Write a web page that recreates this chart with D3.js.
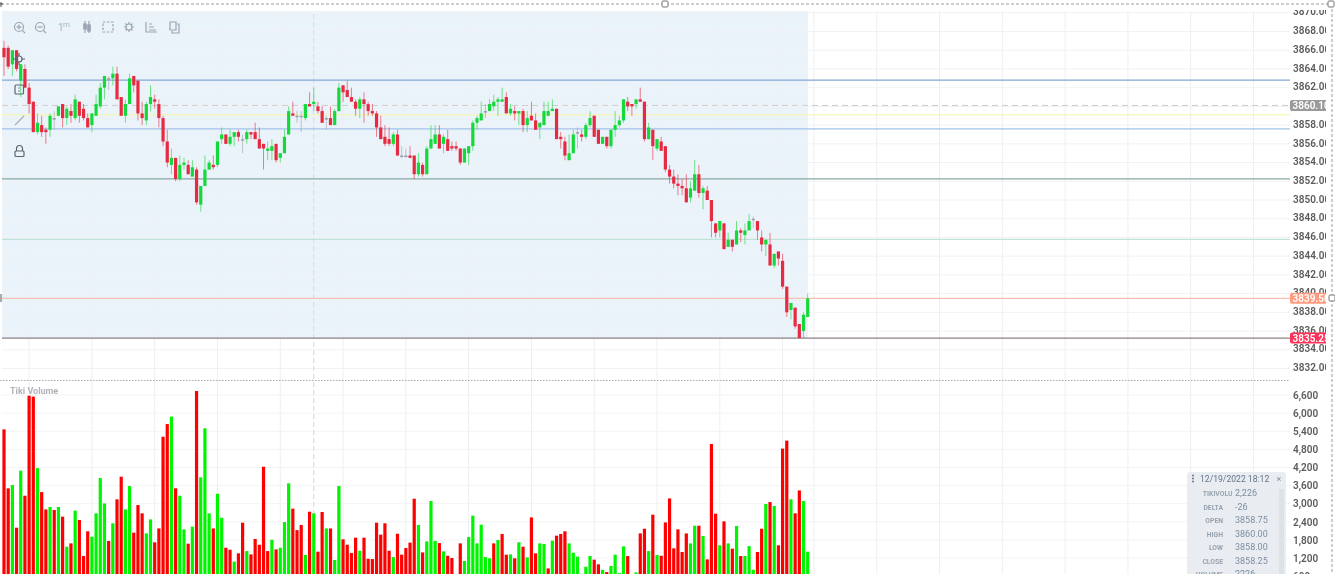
<!DOCTYPE html>
<html><head><meta charset="utf-8">
<script src="https://cdnjs.cloudflare.com/ajax/libs/d3/7.8.5/d3.min.js"></script>
<style>
html,body{margin:0;padding:0;background:#fff;overflow:hidden}
svg{display:block;filter:blur(0.55px);font-family:Roboto,"Open Sans",sans-serif}
</style></head><body><svg id="c" width="1335" height="574"></svg>
<script>
const opens=[3866.25,3866.25,3864.5,3866,3862.75,3864,3862,3860.5,3857.25,3858,3857.5,3857.5,3858.75,3859,3860.25,3858.75,3859.5,3858.75,3860.5,3859.75,
3858.75,3858,3859,3860,3862,3863,3863,3863.5,3861,3859,3860.25,3863.25,3862.75,3859.25,3858.5,3860.25,3860.75,3860.25,3858.75,3856.25,
3853.75,3854.5,3852.25,3853.75,3853.75,3852.5,3853.25,3849.5,3851.5,3853.25,3853.75,3853.75,3856.5,3857,3856,3856.75,3857.25,3856.5,3856.5,3857.25,
3857.25,3856.5,3856,3855.25,3855.25,3856,3854.5,3855,3857,3859.25,3859,3859,3858.75,3860.25,3860.25,3860,3859.5,3858.75,3858.75,3858,
3859.5,3862.25,3861.75,3861,3860.5,3859.75,3860.75,3860.25,3859.5,3859.25,3857.75,3856.75,3856.5,3856,3857,3854.75,3854.75,3854.75,3854.75,3852.75,
3853.75,3852.75,3855.5,3856,3857,3856,3856.5,3855.75,3855.75,3855.5,3854,3855,3855.75,3858.25,3858.5,3859.5,3859.5,3860,3860.5,3860.5,
3861,3859.25,3859.5,3859.25,3859.5,3858,3859,3858.5,3857.75,3858,3859,3859.5,3859.75,3856.75,3856.25,3854.25,3855,3857.25,3857,3856.75,
3858,3859,3857.5,3856,3856.75,3855.75,3857.5,3858,3858.5,3860.5,3860.25,3860.25,3860.75,3860.5,3856.5,3857.5,3855.5,3856.25,3855.75,3853.25,
3852.5,3851.75,3851.5,3851.25,3850.25,3851,3852.75,3850.75,3851,3850,3847.5,3846.75,3847.5,3845,3845.75,3845.25,3846.75,3846.25,3846.75,3848,
3847.75,3846,3845.25,3845.25,3843,3844.5,3843.5,3840.75,3838.25,3838.5,3836.75,3836,3837.5];
const highs=[3867,3866.5,3866,3866,3864.5,3864.5,3862.5,3860.5,3859.25,3859,3857.75,3859.25,3859.5,3860,3860.25,3860,3860.25,3861.25,3860.5,3860.25,
3859.25,3859.25,3861.25,3862.5,3863.25,3863.25,3864.25,3864.25,3861,3860.75,3863.5,3863.25,3862.75,3860.5,3860.5,3862.25,3861.25,3860.75,3859,3857.5,
3855.5,3854.5,3854.75,3854.5,3854.25,3854.25,3853.5,3851.5,3854.75,3854.25,3854.75,3856.25,3857.75,3857,3857.5,3857.25,3857.5,3857,3857.5,3857.25,
3858.25,3857.75,3856,3856.25,3856.5,3856,3855,3857.5,3860,3860.5,3859.5,3859.5,3860.25,3861.5,3862,3860.5,3860,3859,3860,3859.75,
3862.5,3862.25,3862.75,3862,3860.75,3861,3861.5,3860.5,3860.25,3859.5,3859,3858,3857.75,3857.25,3857.5,3855.75,3855.5,3855.75,3854.75,3855,
3854,3855.75,3858,3858,3858,3857,3857.5,3856.25,3856.25,3855.5,3855.5,3855.75,3858.5,3859,3860.5,3860.25,3860.75,3861.25,3861,3862,
3861.5,3860.25,3860,3859.5,3859.75,3859.5,3860.5,3859.25,3858.25,3860.5,3860.5,3860.75,3859.75,3857.25,3856.75,3857,3857.5,3857.75,3857.5,3858.25,
3859.5,3859,3857.5,3856.75,3856.75,3857.5,3859.5,3859,3860.75,3861,3860.25,3860.75,3862,3860.5,3858.25,3857.5,3856.5,3856.75,3855.75,3853.75,
3853.25,3852.75,3852.25,3852.75,3852,3854.25,3853.75,3851.5,3851.5,3850,3847.5,3847.75,3847.5,3846.5,3845.75,3847.75,3847,3847.5,3848.5,3848.25,
3847.75,3846.75,3845.75,3846.5,3844.25,3844.5,3844.25,3840.75,3839,3838.5,3836.75,3838,3840];
const lows=[3863.25,3864,3863.25,3863.75,3861,3862,3859.25,3857.25,3857,3856.75,3856,3856.75,3857.5,3859,3857.75,3858,3858.25,3858.5,3858.25,3858.5,
3857.75,3857.25,3859,3859.75,3860.75,3861.75,3862.25,3860.75,3859,3858.25,3860.25,3861.5,3858.5,3858,3858,3859.5,3859.75,3857.75,3855.75,3853.5,
3852.75,3852,3852,3853.25,3852.75,3852.5,3849.5,3848.75,3851.5,3853.25,3853.25,3853.5,3856,3856,3855.75,3855.75,3856.25,3855,3856,3856.5,
3856.5,3855.5,3853.25,3854.25,3854.25,3854,3854,3855,3857,3859,3858.25,3857.25,3858.5,3860,3859.5,3859.25,3858.25,3857.5,3858,3858,
3859.5,3860.5,3861,3860.5,3859,3858.75,3858.25,3859,3859,3856.75,3856.5,3855.75,3855.75,3855.75,3854.75,3854.5,3854.5,3854.5,3852.25,3852.5,
3852.5,3852.75,3855.5,3856,3855.5,3855,3855.25,3855.25,3855.25,3853.75,3854,3853.75,3855.25,3857.5,3858.5,3858.75,3859.5,3859.5,3859,3860.5,
3859.25,3859,3858.5,3858,3857.25,3857.25,3858.5,3857.5,3856.5,3858,3859,3859.5,3856.5,3855.5,3854.25,3854.25,3855,3855.5,3856.25,3856.5,
3857.75,3856.75,3856,3856,3855.5,3855.5,3856.75,3857.75,3858.25,3859.5,3859,3859.75,3860.5,3856.25,3856.5,3854.25,3855.25,3855.25,3853,3851.75,
3851.25,3850.5,3850.5,3849.75,3849.75,3851,3850.25,3849,3850,3846,3846,3846,3844.75,3845,3844.5,3845.25,3845.5,3845.25,3846.75,3847,
3845.75,3844.5,3844,3843,3842.75,3843,3840.5,3837.5,3837.25,3836.25,3835.25,3835.25,3837.5];
const closes=[3865.25,3864.25,3866,3864,3864.5,3862,3860.25,3857.25,3858.25,3857.25,3857.25,3859,3858.75,3860,3858.75,3859.75,3859,3860.75,3859,3858.75,
3857.75,3859.25,3860.25,3862,3863.25,3863,3863.5,3860.75,3859,3860.25,3863,3862.25,3859.25,3858.75,3860.25,3861,3860.5,3858.75,3856.25,3854,
3854.5,3852.25,3853.75,3854,3852.75,3853.5,3849.75,3851.5,3853.25,3854,3853.5,3856.25,3857,3856,3856.75,3857.25,3856.75,3856.5,3857.25,3857,
3856.5,3855.5,3855.5,3855.5,3855.75,3854.25,3855,3856.75,3859.5,3859,3859,3859,3860.25,3860,3860.5,3859.5,3858.25,3858.75,3858,3859.5,
3862,3861.5,3861,3860.5,3859.75,3860.75,3860.25,3859.5,3859.25,3857.75,3856.5,3856,3856,3857,3854.75,3854.75,3854.75,3854.5,3852.75,3854,
3852.75,3855.5,3856.5,3857,3855.5,3856.75,3855.25,3855.5,3855.5,3854,3855.5,3855.75,3858.25,3858.75,3859.25,3859.5,3860.25,3860.5,3860.75,3860.75,
3859.25,3859.75,3859.25,3859.5,3858,3858.75,3858.5,3857.5,3858.25,3859.5,3859.5,3859.75,3856.5,3856.5,3854.75,3855,3857,3857.25,3856.75,3858,
3858.75,3856.75,3856,3856.75,3855.75,3857.5,3858,3858.5,3860.75,3860,3860,3860.75,3860.5,3856.5,3857.75,3855.75,3856.5,3855.25,3853.25,3852.5,
3851.75,3851.5,3851.25,3849.75,3851.25,3852.75,3850.75,3851.25,3850,3847.75,3846.5,3847.75,3844.75,3845.75,3845,3846.75,3846.5,3846.75,3847.75,3848,
3846.75,3845.25,3845.75,3843,3844.25,3843.75,3840.75,3838,3839,3836.5,3835.25,3837.75,3839.5];
const volumes=[5465,3510,3620,2205,4095,3265,6580,6550,4180,3385,2810,2890,2790,2890,2570,1575,1685,2770,2460,1265,
2085,1905,2680,3850,3010,1765,2350,3145,3895,2810,3585,2040,2955,2680,2015,2480,1720,2180,5220,5640,
5885,3510,3265,2150,1675,2240,6735,3875,5500,2680,2180,3330,2535,1540,1475,1080,1355,2370,1430,1320,
1830,1640,4225,1430,1805,1485,1540,2390,3675,2835,2125,2295,1300,2735,2680,1410,2725,2180,2180,1135,
3585,1820,1640,1365,1875,1440,1875,1175,1165,2370,1975,2350,1440,1230,2005,1310,1530,1710,3165,2295,
1385,1750,3090,1765,1695,1420,1275,1200,600,1685,1100,1895,2605,1685,2305,1230,1190,1685,1795,1995,
1310,1320,1190,1720,1575,1220,2545,1355,1685,1665,855,1775,1940,1995,2085,1685,1375,1245,600,910,
1265,1145,990,810,735,935,1310,700,1585,1265,600,725,2015,2170,1430,2635,1300,1275,2380,3175,
1520,2150,1400,2015,1685,2270,2270,1930,1155,4980,2670,1620,2415,1685,1510,2260,1265,1265,1595,810,
1400,2170,2990,3055,2925,1620,4825,5090,3145,2680,3440,3090,1410];
const volumeUp=[0,0,1,0,1,0,0,0,1,0,0,1,0,1,0,1,0,1,0,0,0,1,1,1,1,0,1,0,0,1,1,0,0,0,1,1,0,0,0,0,
1,0,1,1,0,1,0,1,1,1,0,1,1,0,0,1,0,0,1,0,0,0,0,0,1,0,1,1,1,0,0,0,1,0,1,0,0,1,0,1,
1,0,0,0,0,1,0,0,0,0,0,0,0,1,0,0,0,0,0,1,0,1,1,1,0,1,0,0,0,0,1,1,1,1,1,1,1,0,1,0,
0,1,0,1,0,1,0,0,1,1,0,1,0,0,0,1,1,1,0,1,1,0,0,1,0,1,1,1,1,0,0,1,0,0,1,0,1,0,0,0,
0,0,0,0,1,1,0,1,0,0,0,1,0,1,0,1,0,1,1,1,0,0,1,0,1,0,0,0,1,0,0,1,1];
const priceTicks=[3870,3868,3866,3864,3862,3860,3858,3856,3854,3852,3850,3848,3846,3844,3842,3840,3838,3836,3834,3832];
const volumeTicks=[600,1200,1800,2400,3000,3600,4200,4800,5400,6000,6600];
const timeGridBars=[6,21,36,51,66,81,96,111,126,141,156,171,186,193.5,208.5,223.5,238.5,253.5,268.5,283.5,298.5];
const crosshairBar=74;
const levelValues=[3862.8,3859.1,3857.6,3852.25,3845.8,3839.5,3835.25];
const levelColors=["#86a9d6","#f6f6a4","#a3c4ea","#88a9a2","#bfe3d8","#fbc0b1","#8d8282"];
const lastPriceValue=3860.1;
const priceTags=[["3860.10",3860.1,"#9a9a9a"],["3839.50",3839.5,"#ff9a7f"],["3835.25",3835.25,"#ff3158"]];
const tipTitle="12/19/2022 18:12";
const tipLabels=["TIKIVOLU","DELTA","OPEN","HIGH","LOW","CLOSE","VOLUME"];
const tipValues=["2,226","-26","3858.75","3860.00","3858.00","3858.25","2226"];

const svg=d3.select("#c");
const defs=svg.append("defs");
defs.append("clipPath").attr("id","axisClip").append("rect").attr("x",1285).attr("y",10).attr("width",41).attr("height",564);
defs.append("clipPath").attr("id","priceClip").append("rect").attr("x",2).attr("y",10).attr("width",1288).attr("height",370);
defs.append("clipPath").attr("id","volClip").append("rect").attr("x",2).attr("y",382).attr("width",1288).attr("height",192);

const x=d3.scaleLinear().domain([0,192]).range([4,807.7]);
const y=d3.scaleLinear().domain([3868,3832]).range([31.5,368.5]);
const yv=d3.scaleLinear().domain([0,6600]).range([594.2,395.1]);

// selection background
svg.append("rect").attr("x",2).attr("y",11).attr("width",806).attr("height",327).attr("fill","#ebf3fa");

// grid
const grid=svg.append("g").attr("stroke","#eceff3").attr("stroke-width",1).attr("fill","none");
timeGridBars.forEach(b=>grid.append("line").attr("x1",x(b)).attr("x2",x(b)).attr("y1",11).attr("y2",574));
priceTicks.forEach(p=>grid.append("line").attr("x1",2).attr("x2",1290).attr("y1",y(p)).attr("y2",y(p)).attr("stroke","#f0f2f5"));
volumeTicks.forEach(v=>grid.append("line").attr("x1",2).attr("x2",1290).attr("y1",yv(v)).attr("y2",yv(v)).attr("stroke","#f3f3f5"));
svg.append("line").attr("x1",x(crosshairBar)).attr("x2",x(crosshairBar)).attr("y1",14).attr("y2",574)
  .attr("stroke","#d3d7dc").attr("stroke-dasharray","5 3");

// levels
const gp=svg.append("g").attr("clip-path","url(#priceClip)");
gp.append("line").attr("x1",2).attr("x2",1290).attr("y1",y(lastPriceValue)).attr("y2",y(lastPriceValue))
  .attr("stroke","#cdcdcd").attr("stroke-dasharray","6 4");
gp.selectAll("line.lvl").data(levelValues).join("line").attr("class","lvl")
  .attr("x1",2).attr("x2",1290).attr("y1",d=>y(d)).attr("y2",d=>y(d))
  .attr("stroke",(d,i)=>levelColors[i]).attr("stroke-width",(d,i)=>i===1?1:1.2);

// candles
const candleColor=(o,c)=>o===c?"#9aa0a8":(c>o?"#14d93a":"#e62a42");
const candles=gp.append("g").selectAll("g").data(opens).join("g");
candles.append("line").attr("x1",(d,i)=>x(i)).attr("x2",(d,i)=>x(i))
  .attr("y1",(d,i)=>y(highs[i])).attr("y2",(d,i)=>y(lows[i]))
  .attr("stroke",(d,i)=>candleColor(d,closes[i])).attr("stroke-width",1).attr("stroke-opacity",.6);
candles.append("rect").attr("x",(d,i)=>x(i)-1.6).attr("width",3.2)
  .attr("y",(d,i)=>y(Math.max(d,closes[i])))
  .attr("height",(d,i)=>Math.max(1.5,Math.abs(y(d)-y(closes[i]))))
  .attr("fill",(d,i)=>candleColor(d,closes[i]));

// volume
svg.append("g").attr("clip-path","url(#volClip)").selectAll("rect").data(volumes).join("rect")
  .attr("x",(d,i)=>x(i)-1.6).attr("width",3.2).attr("y",d=>yv(d)).attr("height",d=>yv(0)-yv(d))
  .attr("fill",(d,i)=>volumeUp[i]?"#00f500":"#ff0000");

// separator, frame
svg.append("line").attr("x1",0).attr("x2",1290).attr("y1",380.5).attr("y2",380.5).attr("stroke","#a9a9a9").attr("stroke-dasharray","1.5 1.5");
const frame=svg.append("g").attr("fill","none").attr("stroke","#9b9b9b").attr("stroke-dasharray","3 2");
frame.append("line").attr("x1",1).attr("x2",1331).attr("y1",4).attr("y2",4);
frame.append("line").attr("x1",1332).attr("x2",1332).attr("y1",4).attr("y2",574);
const hs=[[665,4],[1331,4],[1332,298]];
hs.forEach(h=>svg.append("rect").attr("x",h[0]-3).attr("y",h[1]-3).attr("width",6).attr("height",6).attr("rx",1).attr("fill","#fff").attr("stroke","#777"));
svg.append("line").attr("x1",1).attr("x2",1).attr("y1",294).attr("y2",302).attr("stroke","#555");
svg.append("line").attr("x1",0).attr("x2",3).attr("y1",4).attr("y2",4).attr("stroke","#555");
svg.append("line").attr("x1",1).attr("x2",1).attr("y1",2).attr("y2",7).attr("stroke","#555");

// axes
const axisG=svg.append("g").attr("clip-path","url(#axisClip)");
const styleAxis=g=>{g.select(".domain").remove();g.selectAll(".tick line").remove();
  g.selectAll("text").attr("fill","#5b5b5b").attr("font-size",10).attr("font-weight",600).attr("font-family","Roboto,sans-serif");};
axisG.append("g").attr("transform","translate(1293,-1)")
  .call(d3.axisRight(y).tickValues(priceTicks).tickFormat(d3.format(".2f")).tickSize(0).tickPadding(0)).call(styleAxis);
axisG.append("g").attr("transform","translate(1293,0)")
  .call(d3.axisRight(yv).tickValues(volumeTicks).tickFormat(d3.format(",")).tickSize(0).tickPadding(0)).call(styleAxis);
priceTags.forEach(t=>{
  axisG.append("rect").attr("x",1290).attr("y",y(t[1])-5.5).attr("width",42).attr("height",11).attr("rx",2).attr("fill",t[2]);
  axisG.append("text").attr("x",1292.5).attr("y",y(t[1])+3.5).attr("fill","#fff").attr("font-size",10).attr("font-weight",600).text(t[0]);
});

// title
svg.append("text").attr("x",10).attr("y",394).attr("font-size",9).attr("font-weight",700).attr("fill","#b0b3b8").text("Tiki Volume");

// toolbar icons
const ic=svg.append("g").attr("fill","none").attr("stroke","#9aa5b1").attr("stroke-width",1.2);
[[19,0],[40,1]].forEach(d=>{
  ic.append("circle").attr("cx",d[0]).attr("cy",27).attr("r",4.5);
  ic.append("line").attr("x1",d[0]+3.3).attr("y1",30.3).attr("x2",d[0]+6).attr("y2",33);
  ic.append("line").attr("x1",d[0]-2.5).attr("x2",d[0]+2.5).attr("y1",27).attr("y2",27);
  if(d[1]===0) ic.append("line").attr("x1",d[0]).attr("x2",d[0]).attr("y1",24.5).attr("y2",29.5);
});
svg.append("text").attr("x",58).attr("y",31).attr("font-size",10).attr("fill","#aab3bc").text("1");
svg.append("text").attr("x",63).attr("y",27).attr("font-size",8).attr("fill","#aab3bc").text("m");
[85,89].forEach((a,i)=>{ic.append("line").attr("x1",a).attr("x2",a).attr("y1",21).attr("y2",33);
  ic.append("rect").attr("x",a-1.2).attr("y",i?25:24).attr("width",2.4).attr("height",i?6:5).attr("fill","#9aa5b1");});
ic.append("rect").attr("x",103).attr("y",22).attr("width",10).attr("height",10).attr("stroke-dasharray","2.5 1.5");
ic.append("circle").attr("cx",129).attr("cy",27).attr("r",3);
ic.append("path").attr("d","M129 22v2M129 30v2M124 27h2M132 27h2M125.5 23.5l1.4 1.4M131.1 29.1l1.4 1.4M125.5 30.5l1.4 -1.4M131.1 24.9l1.4 -1.4");
ic.append("path").attr("d","M146 22V32H157M149 27h5M149 24h3M149 30h7");
ic.append("path").attr("d","M170 22h6v8h-6zM177 24h2v9h-7v-2");
// side tools
const st=svg.append("g").attr("fill","none").attr("stroke","#5c6570").attr("stroke-width",1.2);
st.append("circle").attr("cx",19).attr("cy",59).attr("r",3);
st.append("path").attr("d","M19 53v3M19 62v3M13 59h3M22 59h3");
st.append("rect").attr("x",15).attr("y",85).attr("width",8.5).attr("height",9).attr("rx",1);
st.append("path").attr("d","M19 87.5v1M19 90.5v1").attr("stroke-width",1.5);
st.append("line").attr("x1",15).attr("y1",125).attr("x2",24).attr("y2",116).attr("stroke","#a9b0b8");
st.append("rect").attr("x",15).attr("y",151).attr("width",9).attr("height",5.5).attr("rx",1);
st.append("path").attr("d","M16.5 151v-2.5a3 3 0 0 1 6 0v2.5");

// tooltip panel
const tip=svg.append("g");
tip.append("rect").attr("x",1187).attr("y",472).attr("width",99).attr("height",110).attr("rx",3).attr("fill","#e8ecf1").attr("fill-opacity",.95);
tip.append("rect").attr("x",1279).attr("y",489).attr("width",5).attr("height",90).attr("fill","#dde2e8");
[-3,0,3].forEach(d=>tip.append("circle").attr("cx",1193).attr("cy",478.5+d).attr("r",0.9).attr("fill","#5d6b7c"));
tip.append("text").attr("x",1200).attr("y",481.5).attr("font-size",8.6).attr("fill","#66758a").text(tipTitle);
tip.append("text").attr("x",1276.5).attr("y",481.5).attr("font-size",9).attr("fill","#7d8894").text("×");
const rowY=d3.scaleLinear().domain([0,6]).range([496,577]);
tip.selectAll("text.l").data(tipLabels).join("text").attr("class","l")
  .attr("x",(d,i)=>i===0?1232.5:1223).attr("y",(d,i)=>rowY(i)).attr("text-anchor","end")
  .attr("font-size",6.8).attr("font-weight",700).attr("fill","#98a2ae").text(d=>d);
tip.selectAll("text.v").data(tipValues).join("text").attr("class","v")
  .attr("x",1235).attr("y",(d,i)=>rowY(i)).attr("font-size",9).attr("fill","#7e8da1").text(d=>d);
</script></body></html>
